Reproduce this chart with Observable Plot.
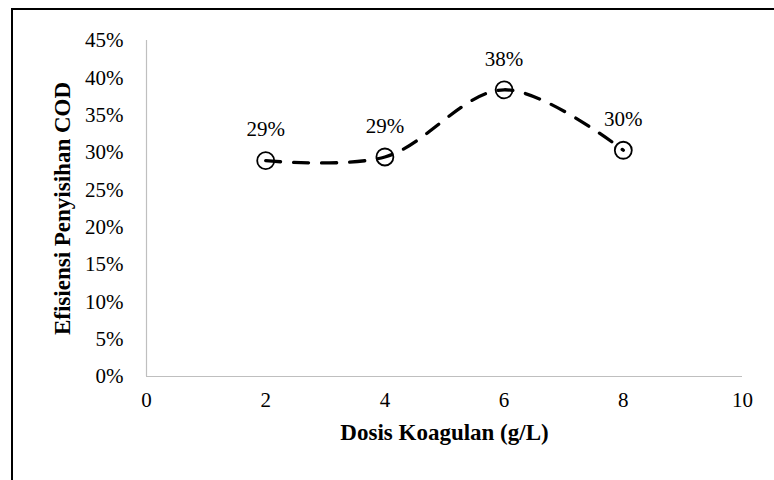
<!DOCTYPE html>
<html>
<head>
<meta charset="utf-8">
<script src="https://cdn.jsdelivr.net/npm/d3@7"></script>
<script src="https://cdn.jsdelivr.net/npm/@observablehq/plot@0.6"></script>
<style>
  html, body { margin: 0; padding: 0; background: #fff; }
  #wrap { position: relative; width: 774px; height: 480px; overflow: hidden; background: #fff; }
  #frame { position: absolute; left: 11px; top: 8px; width: 800px; height: 520px; border: 2px solid #000; box-sizing: border-box; }
  #chart { position: absolute; left: 0; top: 0; }
  #chart svg, #chart svg text { font-family: "Liberation Serif", "Times New Roman", serif !important; }
</style>
</head>
<body>
<div id="wrap">
  <div id="frame"></div>
  <div id="chart"></div>
</div>
<script>
// Coagulant dose (g/L) and COD removal efficiency (%)
const dose = [2, 4, 6, 8];
const efficiency = [28.9, 29.4, 38.4, 30.3];
const xTicks = [0, 2, 4, 6, 8, 10];
const yTicks = [0, 5, 10, 15, 20, 25, 30, 35, 40, 45];
const xTitle = "Dosis Koagulan (g/L)";
const yTitle = "Efisiensi Penyisihan COD";

const rows = dose.map((d, i) => ({dose: d, eff: efficiency[i]}));

const chart = Plot.plot({
  width: 774,
  height: 480,
  marginLeft: 146,
  marginRight: 32,
  marginTop: 40,
  marginBottom: 104,
  style: {fontSize: "21px", color: "#000", background: "transparent"},
  x: {domain: [0, 10]},
  y: {domain: [0, 45]},
  marks: [
    Plot.axisX({ticks: xTicks, tickSize: 0, tickPadding: 16, label: null, fontSize: 21}),
    Plot.axisY({ticks: yTicks, tickSize: 0, tickPadding: 23, label: null, fontSize: 21,
      tickFormat: d => d + "%"}),
    Plot.ruleY([0], {stroke: "#bfbfbf", strokeWidth: 1.2}),
    Plot.ruleX([0], {stroke: "#bfbfbf", strokeWidth: 1.2}),
    Plot.dot(rows, {x: "dose", y: "eff", r: 8.5, stroke: "#000", strokeWidth: 1.8, fill: "none"}),
    Plot.line(rows, {x: "dose", y: "eff", curve: "catmull-rom", stroke: "#000",
      strokeWidth: 3.3, strokeDasharray: "15,13", strokeDashoffset: 0}),
    Plot.text(rows, {x: "dose", y: "eff", text: d => Math.round(d.eff) + "%", dy: -31,
      fontSize: 21, fill: "#000"}),
    Plot.text([xTitle], {frameAnchor: "bottom", dy: 63, fontWeight: "bold", fontSize: 23, fill: "#000"}),
    Plot.text([yTitle], {frameAnchor: "left", textAnchor: "middle", dx: -84, rotate: -90,
      fontWeight: "bold", fontSize: 23, fill: "#000"})
  ]
});
document.getElementById("chart").appendChild(chart);
</script>
</body>
</html>
